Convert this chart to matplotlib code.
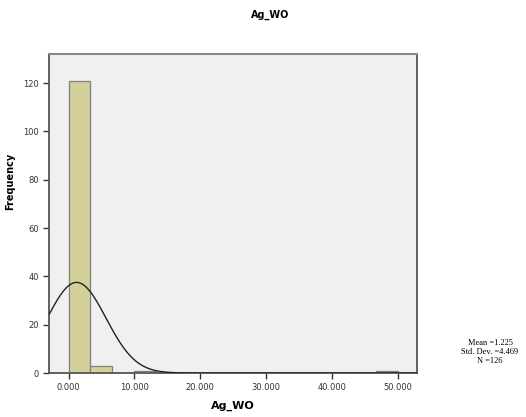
import numpy as np
import matplotlib
matplotlib.use("Agg")
import matplotlib.pyplot as plt

# Data
bin_edges = [i * 50.0 / 15 for i in range(16)]
counts = [121, 3, 0, 1, 0, 0, 0, 0, 0, 0, 0, 0, 0, 0, 1]
mean_val = 1.225
std_val = 4.469
n_val = 126
x_ticks = [0, 10, 20, 30, 40, 50]
x_tick_labels = ["0.000", "10.000", "20.000", "30.000", "40.000", "50.000"]
y_ticks = [0, 20, 40, 60, 80, 100, 120]

fig = plt.figure(figsize=(5.26, 4.17), dpi=100)
ax = fig.add_axes([0.094, 0.1055, 0.698, 0.765])
ax.set_facecolor("#f0f0f0")

widths = np.diff(bin_edges)
ax.bar(bin_edges[:-1], counts, width=widths, align="edge",
       color="#d3d09a", edgecolor="#808080", linewidth=0.9, zorder=2)

xlim = (-2.9, 52.9)
xs = np.linspace(xlim[0], xlim[1], 600)
bw = widths[0]
ys = n_val * bw / (std_val * np.sqrt(2 * np.pi)) * np.exp(-0.5 * ((xs - mean_val) / std_val) ** 2)
ax.plot(xs, ys, color="#222222", linewidth=1.0, zorder=3)

ax.set_xlim(*xlim)
ax.set_ylim(0, 132)
ax.set_xticks(x_ticks)
ax.set_xticklabels(x_tick_labels)
ax.set_yticks(y_ticks)
ax.tick_params(axis="both", direction="out", labelsize=6, colors="#333333",
               length=4, width=1.0)
for lbl in ax.get_xticklabels() + ax.get_yticklabels():
    lbl.set_color("#333333")

for side in ["left", "bottom", "right"]:
    ax.spines[side].set_color("#555555")
    ax.spines[side].set_linewidth(1.3)
ax.spines["top"].set_color("#888888")
ax.spines["top"].set_linewidth(1.5)

ax.set_xlabel("Ag_WO", fontsize=8, fontweight="bold", labelpad=6)
ax.set_ylabel("Frequency", fontsize=7, fontweight="bold")
ax.yaxis.set_label_coords((15 - 49.5) / (0.698 * 526), 0.6)

fig.text(270 / 526, 1 - 15 / 417, "Ag_WO", ha="center", va="center",
         fontsize=7, fontweight="bold")

fig.text(490 / 526, 1 - 352 / 417,
         "Mean =%.3f\nStd. Dev. =%.3f\nN =%d" % (mean_val, std_val, n_val),
         ha="center", va="center", fontsize=6, family="Liberation Serif",
         linespacing=1.15)

fig.savefig("out.png", dpi=100)
